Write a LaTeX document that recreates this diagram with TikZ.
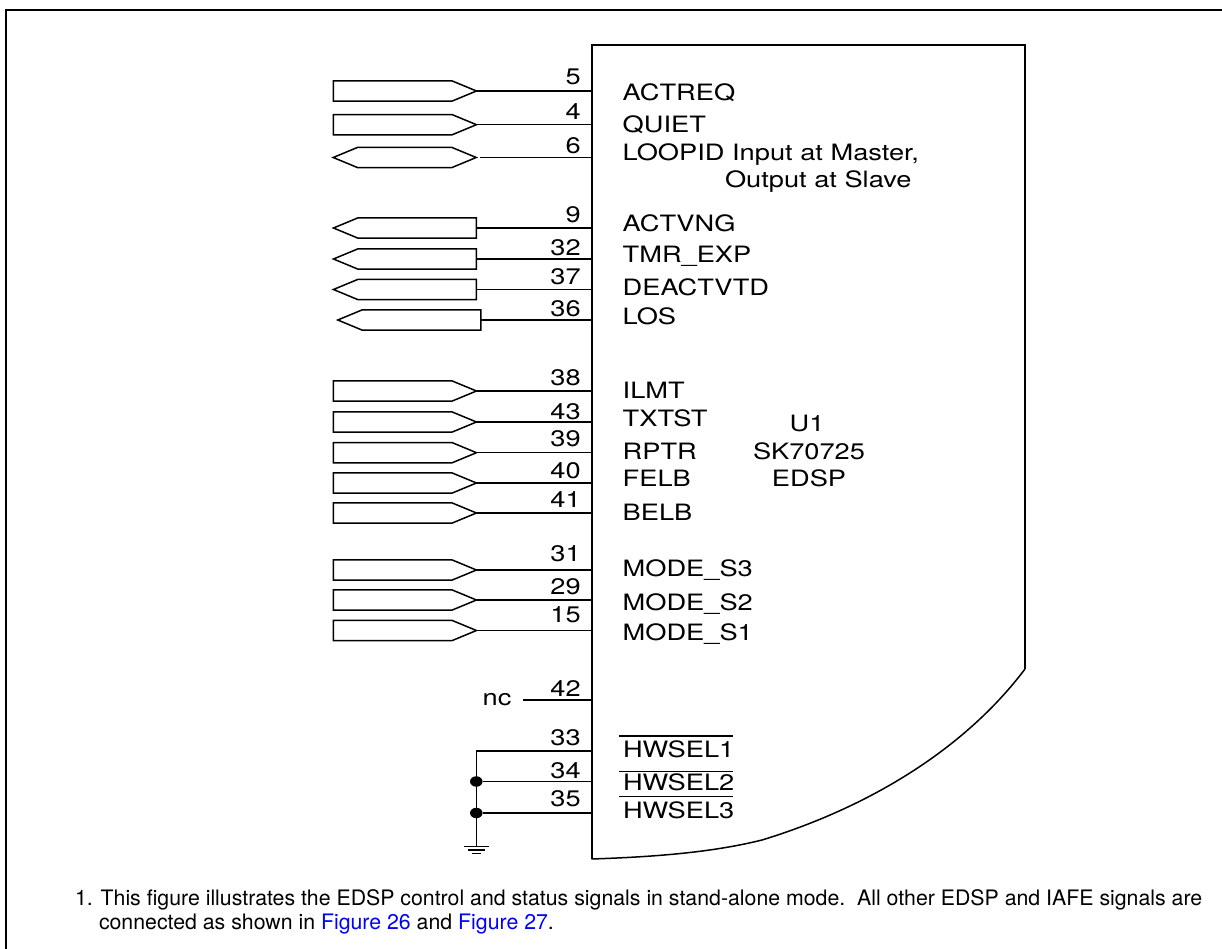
\documentclass[tikz,border=0pt]{standalone}
\usepackage{fontspec}
\usetikzlibrary{shapes.symbols,shapes.geometric}
\newfontfamily\labelfont[FakeStretch=1.21]{TeX Gyre Heros}
\newfontfamily\notefont{TeX Gyre Heros}
\definecolor{linkblue}{RGB}{0,0,255}
\tikzset{
  x=1pt,y=-1pt,
  wire/.style={line width=1.4pt,black},
  frameline/.style={line width=2pt,black},
  chipline/.style={line width=1.8pt,black},
  sigbase/.style={shape=signal,draw,line width=1.5pt,fill=white,inner sep=0pt,outer sep=0pt,
    minimum height=20.3pt,minimum width=143pt,signal pointer angle=45},
  sigin/.style={sigbase,signal from=nowhere,signal to=east},
  sigout/.style={sigbase,signal from=nowhere,signal to=west},
  sigboth/.style={sigbase,signal to=east and west},
  lbl/.style={inner sep=0pt,outer sep=0pt,font=\labelfont\fontsize{22.5}{24}\selectfont,anchor=base west},
  pinnum/.style={lbl,anchor=base east},
  ctr/.style={lbl,anchor=base},
  note/.style={inner sep=0pt,outer sep=0pt,font=\notefont\fontsize{21.3}{24}\selectfont,anchor=base west},
  dot/.style={shape=ellipse,fill=black,draw=none,inner sep=0pt,minimum width=12.5pt,minimum height=10.5pt},
}
\newcommand{\pinrow}[6]{% style, name, centre x, y, number, numbery
  \node[#1,anchor=center] (#2) at (#3,#4) {};
  \coordinate (#2p) at (591.7,#4);
  \node[pinnum] (#2n) at (580.7,#6) {#5};
}
\begin{document}
\begin{tikzpicture}
\useasboundingbox (0,0) rectangle (1222,949);
\draw[frameline] (6,949) -- (6,10) -- (1222,10);
% chip
\draw[chipline] (591.7,859) -- (591.7,45) -- (1025,45) -- (1025,669);
\draw[line width=1.5pt] (1025,669) .. controls (960,755) and (860,810) .. (762,840) .. controls (710,853) and (650,857) .. (591.7,859);
% pins
\pinrow{sigin}{a}{392.7}{91}{5}{85}
\pinrow{sigin}{b}{392.7}{124.7}{4}{120}
\pinrow{sigboth}{c}{404.7}{157.5}{6}{154}
\pinrow{sigout}{d}{417.2}{228}{9}{222.7}
\pinrow{sigout}{e}{417.2}{259}{32}{256}
\pinrow{sigout}{f}{417.2}{289.5}{37}{284}
\pinrow{sigout}{g}{421.5}{320}{36}{316.7}
\pinrow{sigin}{h}{392.7}{391}{38}{385.7}
\pinrow{sigin}{i}{392.7}{422}{43}{419}
\pinrow{sigin}{j}{392.7}{452.7}{39}{446.7}
\pinrow{sigin}{k}{392.7}{483}{40}{478}
\pinrow{sigin}{l}{392.7}{513}{41}{507.7}
\pinrow{sigin}{m}{392.7}{570}{31}{561}
\pinrow{sigin}{n}{392.7}{600}{29}{594}
\pinrow{sigin}{o}{392.7}{630.5}{15}{622}
\coordinate (cs) at (480,157.5);
\draw[wire] (cs) -- (cp);
\foreach \s in {a,b,d,e,f,g,h,i,j,k,l,m,n,o} \draw[wire] (\s.east) -- (\s p);
% nc
\node[lbl] (nc) at (482.7,705) {nc};
\coordinate (ncs) at (523,700);
\coordinate (ncp) at (591.7,700);
\draw[wire] (ncs) -- (ncp);
\node[pinnum] (n42) at (580.7,696.7) {42};
% hwsel pins
\node[pinnum] (n33) at (580.7,745) {33};
\node[pinnum] (n34) at (580.7,778) {34};
\node[pinnum] (n35) at (580.7,806.7) {35};
\coordinate (p33) at (591.7,751);
\coordinate (p34) at (591.7,781.5);
\coordinate (p35) at (591.7,813);
\coordinate (b33) at (476.3,751);
\node[dot] (j34) at (476.3,781.5) {};
\node[dot] (j35) at (476.3,813) {};
\coordinate (gnd) at (476.3,846.7);
\draw[wire] (p33) -- (b33) -- (gnd);
\draw[wire] (p34) -- (j34);
\draw[wire] (p35) -- (j35);
\draw[wire] (463.5,846.7) -- (489.3,846.7);
\draw[wire] (468,850) -- (485,850);
\draw[wire] (472,853.3) -- (481,853.3);
% chip labels
\node[lbl] (t1) at (622.7,100.7) {ACTREQ};
\node[lbl] (t2) at (622.7,133) {QUIET};
\node[lbl] (t3) at (622.7,161) {LOOPID Input at Master,};
\node[lbl] (t4) at (725,187.7) {Output at Slave};
\node[lbl] (t5) at (622.7,231.7) {ACTVNG};
\node[lbl] (t6) at (622.7,263) {TMR\_EXP};
\node[lbl] (t7) at (622.7,295.7) {DEACTVTD};
\node[lbl] (t8) at (622.7,324) {LOS};
\node[lbl] (t9) at (622.7,398) {ILMT};
\node[lbl] (t10) at (622.7,426) {TXTST};
\node[lbl] (t11) at (622.7,459) {RPTR};
\node[lbl] (t12) at (622.7,486.7) {FELB};
\node[lbl] (t13) at (622.7,520) {BELB};
\node[lbl] (t14) at (622.7,576.7) {MODE\_S3};
\node[lbl] (t15) at (622.7,610) {MODE\_S2};
\node[lbl] (t16) at (622.7,640.7) {MODE\_S1};
\node[ctr] (u1) at (807,431.7) {U1};
\node[ctr] (u2) at (809,459) {SK70725};
\node[ctr] (u3) at (809,486.7) {EDSP};
\node[lbl] (h1) at (623,757.7) {HWSEL1};
\node[lbl] (h2) at (623,790.7) {HWSEL2};
\node[lbl] (h3) at (623,818) {HWSEL3};
\draw[wire] (619,736) -- (733,736);
\draw[wire] (619,771.7) -- (733,771.7);
\draw[wire] (619,796.7) -- (733,796.7);
% footnote
\node[note] (fn1) at (75,905) {1. This figure illustrates the EDSP control and status signals in stand-alone mode.\ \ All other EDSP and IAFE signals are};
\node[note] (fn2) at (99,929) {connected as shown in \textcolor{linkblue}{Figure 26} and \textcolor{linkblue}{Figure 27}.};
\end{tikzpicture}
\end{document}
